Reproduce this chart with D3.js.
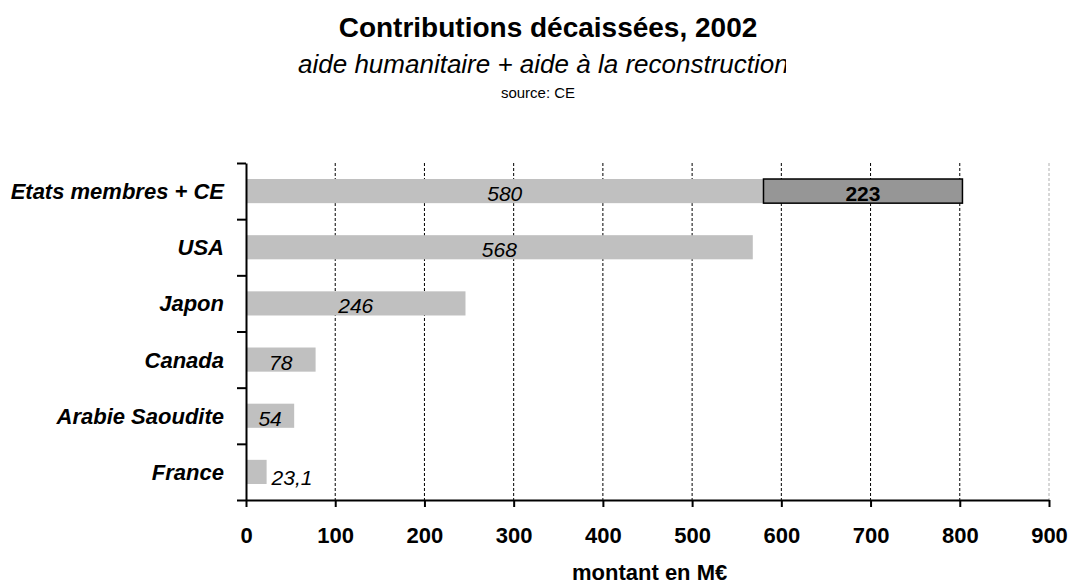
<!DOCTYPE html>
<html>
<head>
<meta charset="utf-8">
<script src="https://cdn.jsdelivr.net/npm/d3@7"></script>
<style>
  body { margin: 0; background: #fff; }
  svg { display: block; font-family: "Liberation Sans", Arial, sans-serif; }
</style>
</head>
<body>
<div id="chart"></div>
<script>
// data
const categories = ["Etats membres + CE", "USA", "Japon", "Canada", "Arabie Saoudite", "France"];
const baseValues = [580, 568, 246, 78, 54, 23.1];
const extraValues = [223, 0, 0, 0, 0, 0];   // second segment, only for EU + member states
const xTicks = [0, 100, 200, 300, 400, 500, 600, 700, 800, 900];

const W = 1070, H = 585;
const margin = { top: 163, right: 21, bottom: 85, left: 246 };

const svg = d3.select("#chart").append("svg")
  .attr("width", W)
  .attr("height", H);

const fr = d3.formatLocale({ decimal: ",", thousands: " ", grouping: [3], currency: ["", " €"] });
const fmt = fr.format("~");

// titles
svg.append("text")
  .attr("x", 548).attr("y", 37)
  .attr("text-anchor", "middle")
  .style("font-size", "28px").style("font-weight", "bold")
  .text("Contributions décaissées, 2002");

svg.append("clipPath").attr("id", "subClip")
  .append("rect").attr("x", 0).attr("y", 0).attr("width", 786).attr("height", 90);
svg.append("text")
  .attr("x", 298).attr("y", 73)
  .attr("clip-path", "url(#subClip)")
  .style("font-size", "26px").style("font-style", "italic")
  .text("aide humanitaire + aide à la reconstruction");

svg.append("text")
  .attr("x", 538).attr("y", 98)
  .attr("text-anchor", "middle")
  .style("font-size", "15px")
  .text("source: CE");

// scales
const x = d3.scaleLinear()
  .domain([0, 900])
  .range([margin.left, W - margin.right]);

const y = d3.scaleBand()
  .domain(categories)
  .range([margin.top, H - margin.bottom])
  .paddingInner(0.57)
  .paddingOuter(0.285);

const yBounds = d3.scaleLinear()
  .domain([0, categories.length])
  .range([margin.top, H - margin.bottom]);

// grid lines
svg.append("g")
  .selectAll("line")
  .data(xTicks.filter(d => d > 0))
  .join("line")
  .attr("x1", d => x(d)).attr("x2", d => x(d))
  .attr("y1", margin.top).attr("y2", H - margin.bottom)
  .attr("stroke", d => d === 900 ? "#b0b0b0" : "#000")
  .attr("stroke-width", 1)
  .attr("stroke-dasharray", "3,2");

// bars
const rows = categories.map((c, i) => ({ cat: c, base: baseValues[i], extra: extraValues[i] }));

svg.append("g")
  .selectAll("rect")
  .data(rows)
  .join("rect")
  .attr("x", x(0))
  .attr("y", d => y(d.cat))
  .attr("width", d => x(d.base) - x(0))
  .attr("height", y.bandwidth())
  .attr("fill", "#c0c0c0");

svg.append("g")
  .selectAll("rect")
  .data(rows.filter(d => d.extra > 0))
  .join("rect")
  .attr("x", d => x(d.base))
  .attr("y", d => y(d.cat))
  .attr("width", d => x(d.base + d.extra) - x(d.base))
  .attr("height", y.bandwidth())
  .attr("fill", "#969696")
  .attr("stroke", "#000")
  .attr("stroke-width", 1.5);

// value labels (inside when they fit, else just after the bar)
svg.append("g")
  .selectAll("text")
  .data(rows)
  .join("text")
  .each(function(d) {
    const w = x(d.base) - x(0);
    const inside = w > 40;
    d3.select(this)
      .attr("x", inside ? (x(0) + x(d.base)) / 2 : x(d.base) + 5)
      .attr("y", y(d.cat) + y.bandwidth() - (inside ? 2 : -1))
      .attr("text-anchor", inside ? "middle" : "start");
  })
  .style("font-size", "21px").style("font-style", "italic")
  .text(d => fmt(d.base));

svg.append("g")
  .selectAll("text")
  .data(rows.filter(d => d.extra > 0))
  .join("text")
  .attr("x", d => (x(d.base) + x(d.base + d.extra)) / 2)
  .attr("y", d => y(d.cat) + y.bandwidth() - 2)
  .attr("text-anchor", "middle")
  .style("font-size", "21px").style("font-weight", "bold")
  .text(d => fmt(d.extra));

// x axis
const xAxis = svg.append("g")
  .attr("transform", `translate(0,${H - margin.bottom})`)
  .call(d3.axisBottom(x).tickValues(xTicks).tickSize(7).tickSizeOuter(0).tickPadding(20));
xAxis.select(".domain").attr("stroke-width", 2);
xAxis.selectAll(".tick line").attr("stroke-width", 2);
xAxis.selectAll(".tick text")
  .attr("font-family", null)
  .style("font-size", "22px").style("font-weight", "bold");

// y axis (ticks on category boundaries)
const yAxis = svg.append("g")
  .attr("transform", `translate(${margin.left},0)`)
  .call(d3.axisLeft(yBounds).tickValues(d3.range(categories.length + 1)).tickSize(9).tickSizeOuter(0).tickFormat(""));
yAxis.select(".domain").attr("stroke-width", 2);
yAxis.selectAll(".tick line").attr("stroke-width", 2);

// category labels
svg.append("g")
  .selectAll("text")
  .data(categories)
  .join("text")
  .attr("x", 224)
  .attr("y", d => y(d) + y.bandwidth() / 2 + 8)
  .attr("text-anchor", "end")
  .style("font-size", "22px").style("font-weight", "bold").style("font-style", "italic")
  .text(d => d);

// axis title
svg.append("text")
  .attr("x", 572).attr("y", 580)
  .style("font-size", "22px").style("font-weight", "bold")
  .text("montant en M€");
</script>
</body>
</html>
